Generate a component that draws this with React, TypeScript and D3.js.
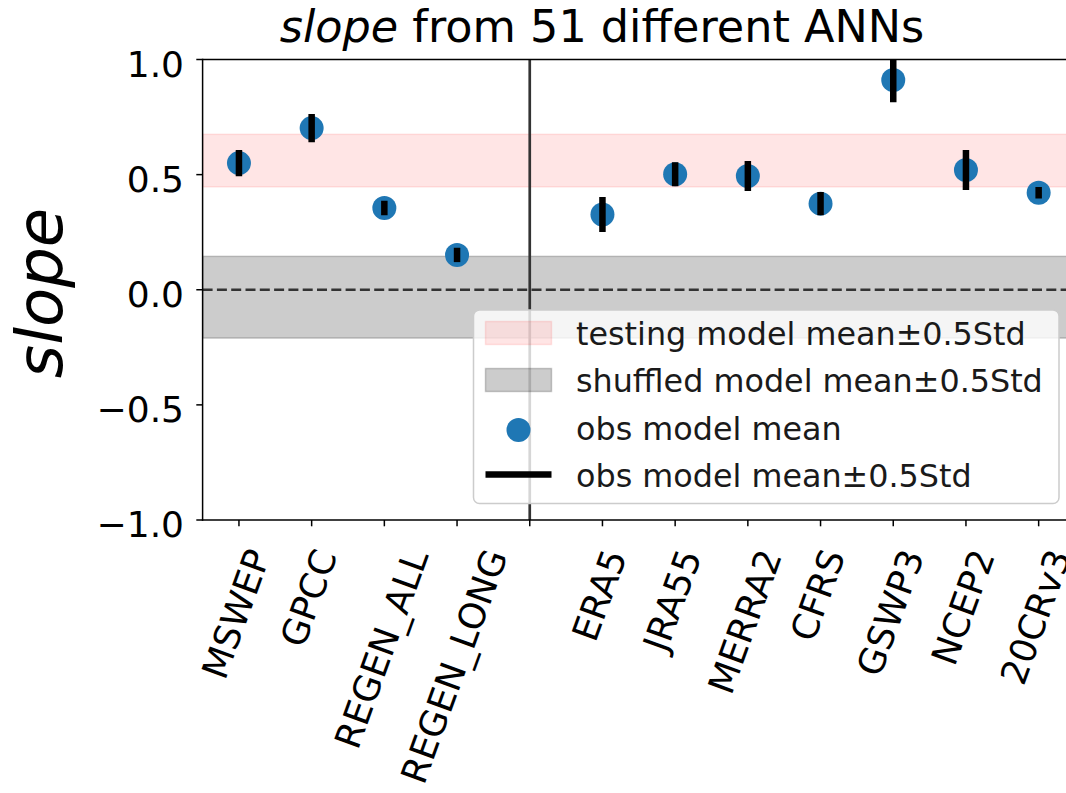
import React, { useMemo } from "react";
import * as d3 from "d3";

// ---- data ----
const categories = ["MSWEP", "GPCC", "REGEN_ALL", "REGEN_LONG", "ERA5", "JRA55", "MERRA2", "CFRS", "GSWP3", "NCEP2", "20CRv3"];
const obsMean = [0.55, 0.702, 0.355, 0.151, 0.327, 0.502, 0.494, 0.374, 0.911, 0.52, 0.421];
const obsHalfStd = [0.057, 0.061, 0.031, 0.031, 0.076, 0.052, 0.065, 0.05, 0.097, 0.087, 0.025];
const testingBand = [0.447, 0.675];
const shuffledBand = [-0.21, 0.145];
const yTicks = [-1.0, -0.5, 0.0, 0.5, 1.0];
const dividerSlot = 4;
const legendLabels = [
  "testing model mean±0.5Std",
  "shuffled model mean±0.5Std",
  "obs model mean",
  "obs model mean±0.5Std",
];

const W = 1066;
const H = 793;
const FONT = "'DejaVu Sans', sans-serif";

function measure(text: string, size: number): number {
  try {
    const c = document.createElement("canvas");
    const ctx = c.getContext("2d");
    if (ctx) {
      ctx.font = `${size}px 'DejaVu Sans'`;
      return ctx.measureText(text).width;
    }
  } catch (e) {}
  return text.length * size * 0.62;
}

const fmt = (v: number) => (v < 0 ? "\u2212" : "") + Math.abs(v).toFixed(1);

export default function App() {
  const left = 202.6;
  const right = 1075;
  const top = 59.5;
  const bottom = 520;

  const slots = categories.map((_, i) => (i < dividerSlot ? i : i + 1));
  const x = d3.scaleLinear().domain([-0.5, 11.5]).range([left, right]);
  const y = d3.scaleLinear().domain([-1, 1]).range([bottom, top]);
  const tickSlots = d3.range(12);

  const tickFs = 36;
  const widths = useMemo(() => categories.map((c) => measure(c, tickFs)), []);

  const cos70 = Math.cos((70 * Math.PI) / 180);
  const sin70 = Math.sin((70 * Math.PI) / 180);
  const labelTop = 546;

  const legFs = 31.8;
  const legX = 473.5;
  const legY = 310;
  const legW = 1059 - 473.5;
  const legH = 503.5 - 310;
  const rowY = [333, 380, 428, 474.5];
  const handleX0 = 485.5;
  const handleX1 = 551.5;
  const textX = 576;

  return (
    <svg width={W} height={H} style={{ position: "absolute", left: 0, top: 0, background: "#fff" }} fontFamily={FONT}>
      <defs>
        <clipPath id="axclip">
          <rect x={left} y={top} width={right - left} height={bottom - top} />
        </clipPath>
      </defs>
      <rect x={0} y={0} width={W} height={H} fill="#fff" />
      <g clipPath="url(#axclip)">
        {/* bands */}
        <rect
          x={left}
          y={y(testingBand[1])}
          width={right - left}
          height={y(testingBand[0]) - y(testingBand[1])}
          fill="rgb(255,0,0)"
          fillOpacity={0.1}
          stroke="rgb(255,0,0)"
          strokeOpacity={0.1}
          strokeWidth={1.5}
        />
        <rect
          x={left}
          y={y(shuffledBand[1])}
          width={right - left}
          height={y(shuffledBand[0]) - y(shuffledBand[1])}
          fill="#000"
          fillOpacity={0.2}
          stroke="#000"
          strokeOpacity={0.2}
          strokeWidth={1.5}
        />
        {/* zero line */}
        <line x1={left} x2={right} y1={y(0)} y2={y(0)} stroke="#333" strokeWidth={2.7} strokeDasharray="10,4.3" />
        {/* divider */}
        <line x1={x(dividerSlot)} x2={x(dividerSlot)} y1={top} y2={bottom} stroke="#333" strokeWidth={2.7} />
        {/* points */}
        {obsMean.map((m, i) => (
          <circle key={"c" + i} cx={x(slots[i])} cy={y(m)} r={12} fill="#1f77b4" />
        ))}
        {obsMean.map((m, i) => (
          <line
            key={"e" + i}
            x1={x(slots[i])}
            x2={x(slots[i])}
            y1={y(m - obsHalfStd[i])}
            y2={y(m + obsHalfStd[i])}
            stroke="#000"
            strokeWidth={6.5}
          />
        ))}
      </g>

      {/* spines */}
      <line x1={left} x2={left} y1={top} y2={bottom} stroke="#000" strokeWidth={1.5} strokeLinecap="square" />
      <line x1={left} x2={right} y1={top} y2={top} stroke="#000" strokeWidth={1.5} />
      <line x1={left} x2={right} y1={bottom} y2={bottom} stroke="#000" strokeWidth={1.5} strokeLinecap="square" />

      {/* y ticks */}
      {yTicks.map((t) => (
        <g key={"yt" + t}>
          <line x1={left - 6.3} x2={left} y1={y(t)} y2={y(t)} stroke="#000" strokeWidth={1.5} />
          <text x={184} y={y(t) + 17} fontSize={tickFs} textAnchor="end" fill="#000">
            {fmt(t)}
          </text>
        </g>
      ))}

      {/* x ticks */}
      {tickSlots.map((s) => (
        <line key={"xt" + s} x1={x(s)} x2={x(s)} y1={bottom} y2={bottom + 6.3} stroke="#000" strokeWidth={1.5} />
      ))}
      {categories.map((c, i) => {
        const w = widths[i];
        const sx = x(slots[i]) - (cos70 * w - 17.85) / 2;
        const sy = labelTop + sin70 * w + 9.4;
        return (
          <text key={"xl" + c} transform={`translate(${sx},${sy}) rotate(-70)`} fontSize={tickFs} fill="#000">
            {c}
          </text>
        );
      })}

      {/* y label */}
      <text
        transform={`translate(62,293) rotate(-90)`}
        fontSize={64}
        fontStyle="italic"
        textAnchor="middle"
        fill="#000"
      >
        slope
      </text>

      {/* title */}
      <text x={602} y={42} fontSize={44.5} textAnchor="middle" fill="#000">
        <tspan fontStyle="italic">slope</tspan> from 51 different ANNs
      </text>

      {/* legend */}
      <rect x={legX} y={legY} width={legW} height={legH} rx={6} fill="#fff" fillOpacity={0.8} stroke="#ccc" strokeWidth={1.5} />
      <rect
        x={handleX0}
        y={rowY[0] - 11.5}
        width={handleX1 - handleX0}
        height={23}
        fill="rgb(255,0,0)"
        fillOpacity={0.1}
        stroke="rgb(255,0,0)"
        strokeOpacity={0.1}
        strokeWidth={1.5}
      />
      <rect
        x={handleX0}
        y={rowY[1] - 11.5}
        width={handleX1 - handleX0}
        height={23}
        fill="#000"
        fillOpacity={0.2}
        stroke="#000"
        strokeOpacity={0.2}
        strokeWidth={1.5}
      />
      <circle cx={(handleX0 + handleX1) / 2} cy={rowY[2] + 2} r={12} fill="#1f77b4" />
      <line x1={handleX0} x2={handleX1} y1={rowY[3]} y2={rowY[3]} stroke="#000" strokeWidth={6.5} />
      {legendLabels.map((l, i) => (
        <text key={"lg" + i} x={textX} y={rowY[i] + 12} fontSize={legFs} fill="#1a1a1a">
          {l}
        </text>
      ))}
    </svg>
  );
}
